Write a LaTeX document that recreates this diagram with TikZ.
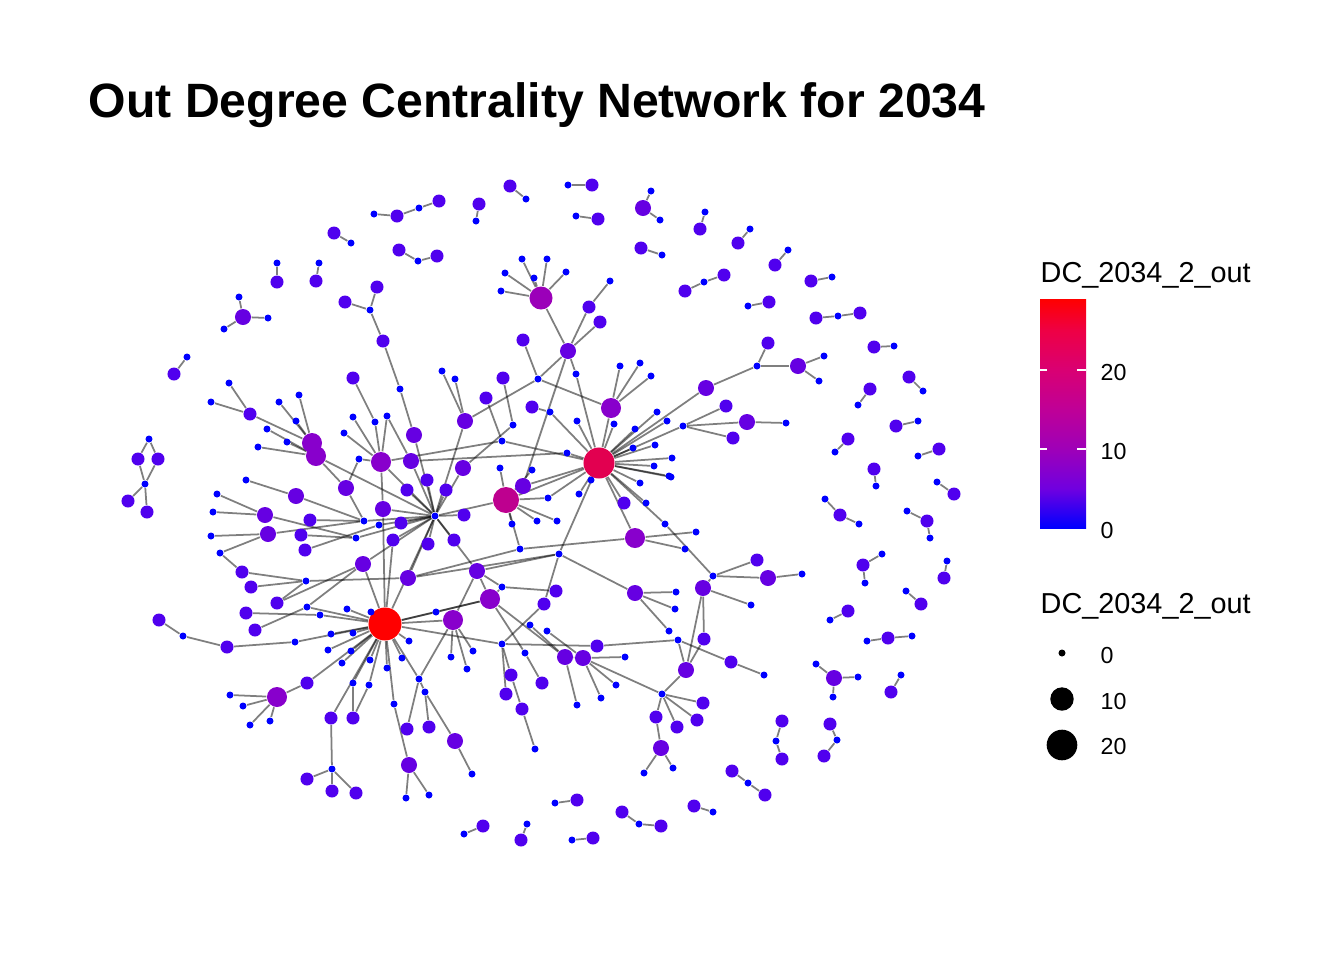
\documentclass[tikz,border=0pt]{standalone}
\usepackage{fontspec}
\setmainfont{Liberation Sans}
\usepackage{tikz}
\usetikzlibrary{backgrounds}
\definecolor{dc-0}{RGB}{0, 0, 255}
\definecolor{dc-1}{RGB}{80, 0, 238}
\definecolor{dc-2}{RGB}{102, 0, 226}
\definecolor{dc-3}{RGB}{136, 0, 204}
\definecolor{dc-4}{RGB}{155, 0, 185}
\definecolor{dc-5}{RGB}{190, 0, 143}
\definecolor{dc-6}{RGB}{226, 0, 80}
\definecolor{dc-7}{RGB}{255, 0, 0}
\definecolor{dcs-5}{RGB}{112, 0, 224}
\definecolor{dcs-10}{RGB}{158, 0, 184}
\definecolor{dcs-15}{RGB}{191, 0, 151}
\definecolor{dcs-20}{RGB}{217, 0, 115}
\definecolor{dcs-25}{RGB}{238, 0, 69}
\pgfdeclareverticalshading{dc-bar}{100bp}{color(0bp)=(dc-0); color(25bp)=(dc-0); color(33.6bp)=(dcs-5);
  color(42.2bp)=(dcs-10); color(50.9bp)=(dcs-15); color(59.5bp)=(dcs-20); color(68.1bp)=(dcs-25);
  color(75bp)=(dc-7); color(100bp)=(dc-7)}

\begin{document}
\begin{tikzpicture}[x = 0.01cm, y = -0.01cm,
    deg0/.style = {circle, inner sep = 0pt, minimum size = 0.07cm, fill = dc-0},
    deg1/.style = {circle, inner sep = 0pt, minimum size = 0.13cm, fill = dc-1},
    deg2/.style = {circle, inner sep = 0pt, minimum size = 0.16cm, fill = dc-2},
    deg3/.style = {circle, inner sep = 0pt, minimum size = 0.20cm, fill = dc-3},
    deg4/.style = {circle, inner sep = 0pt, minimum size = 0.23cm, fill = dc-4},
    edge/.style = {draw = black, draw opacity = 0.5, line width = 0.5pt},
    legend-text/.style = {anchor = base west, inner sep = 0pt, font = \fontsize{6.6pt}{8pt}\selectfont}]
  \useasboundingbox (0, 0) rectangle (1344, 960);

  \node[anchor = base west, inner sep = 0pt, font = \fontsize{13.7pt}{16pt}\selectfont\bfseries] (title) at (88, 117) {Out Degree Centrality Network for 2034};

  % hubs
  \node[circle, inner sep = 0pt, minimum size = 0.33cm, fill = dc-7] (hub-a) at (385, 624) {};
  \node[circle, inner sep = 0pt, minimum size = 0.31cm, fill = dc-6] (hub-b) at (599, 463) {};
  \node[circle, inner sep = 0pt, minimum size = 0.26cm, fill = dc-5] (mid) at (506, 500) {};
  \node[deg0] (junc) at (435, 516) {};

  % vertices, by out degree
  \foreach \x/\y in {374/214, 419/208, 351/243, 277/263, 319/263, 418/261, 370/310, 239/297, 268/318, 224/329,
      187/357, 229/383, 211/402, 526/199, 568/185, 476/221, 576/216, 651/191, 660/220, 662/255, 705/212, 750/229,
      788/250, 704/282, 748/306, 832/277, 838/316, 894/346, 923/391, 858/405, 757/366, 824/356, 819/381, 918/421,
      835/452, 918/456, 876/486, 937/482, 825/499, 859/524, 907/511, 930/538, 882/554, 865/583, 947/561, 906/591,
      830/620, 867/641, 912/636, 816/664, 858/677, 833/697, 901/675, 776/741, 837/740, 748/783, 713/812, 639/824,
      555/803, 464/834, 527/824, 572/840, 149/439, 145/484, 183/636, 295/642,
      522/259, 547/259, 505/273, 534/278, 566/272, 501/291, 610/281, 538/379, 576/374, 620/366, 640/363, 651/376,
      442/371, 455/379, 400/389, 353/417, 375/422, 387/416, 344/433, 359/459, 279/402, 299/395, 296/421, 267/429,
      287/442, 258/447, 246/480, 217/494, 213/512, 211/536, 220/553, 306/581, 307/607, 320/615, 347/609, 371/612,
      331/634, 353/633, 328/650, 351/651, 342/663, 370/660, 387/668, 394/704, 353/683, 369/685, 230/695, 243/706,
      250/725, 270/721, 332/769, 364/521, 379/525, 356/538, 502/441, 513/425, 550/412, 577/421, 567/453, 500/468,
      532/470, 548/498, 537/521, 557/521, 512/524, 520/549, 559/554, 579/494, 591/480, 614/424, 635/429, 657/412,
      667/421, 633/448, 655/445, 654/466, 669/476, 672/458, 671/477, 640/483, 646/503, 665/524, 683/426, 786/423,
      696/532, 685/549, 713/576, 802/574, 751/605, 676/592, 675/609, 669/631, 678/640, 764/675, 662/694, 673/768,
      644/773, 502/587, 436/612, 409/641, 402/658, 419/679, 425/692, 451/657, 473/651, 467/669, 472/774, 406/798,
      429/795, 502/644, 530/625, 547/631, 525/653, 535/749, 577/705, 601/698, 616/685, 625/657}
    \node[deg0] (n\x-\y) at (\x, \y) {};
  \foreach \x/\y in {397/216, 439/201, 334/233, 277/282, 316/281, 399/250, 437/256, 377/287, 345/302, 383/341,
      174/374, 250/414, 510/186, 592/185, 479/204, 598/219, 641/248, 700/229, 738/243, 775/265, 685/291, 724/275,
      769/302, 811/281, 816/318, 860/313, 874/347, 909/377, 870/389, 768/343, 896/426, 848/439, 939/449, 874/469,
      954/494, 840/515, 927/521, 863/565, 944/578, 921/604, 848/611, 888/638, 891/692, 782/721, 782/759, 830/724,
      824/756, 732/771, 765/795, 694/806, 622/812, 661/826, 577/800, 483/826, 521/840, 593/838, 138/459, 158/459,
      128/501, 147/512, 159/620, 227/647, 589/307, 600/322, 523/340, 503/378, 486/398, 532/407, 353/378, 726/406,
      733/438, 624/503, 757/560, 704/639, 731/662, 703/703, 697/720, 677/727, 656/717, 597/646, 556/591, 544/604,
      511/675, 506/694, 542/683, 522/709, 407/729, 429/727, 307/683, 331/718, 353/718, 307/779, 332/791, 356/793,
      246/613, 255/630, 242/572, 251/587, 277/603, 305/550, 301/535, 310/520, 427/480, 446/490, 407/490, 464/515,
      401/523, 393/540, 428/544, 454/540}
    \node[deg1] (n\x-\y) at (\x, \y) {};
  \foreach \x/\y in {643/208, 243/317, 798/366, 706/388, 747/422, 834/678, 411/461, 465/421, 414/435, 568/351,
      523/486, 565/657, 583/658, 477/571, 408/578, 635/593, 703/588, 768/578, 661/748, 686/670, 409/765, 455/741,
      265/515, 268/534, 296/496, 346/488, 363/564, 383/509, 463/468}
    \node[deg2] (n\x-\y) at (\x, \y) {};
  \foreach \x/\y in {312/443, 316/456, 381/462, 611/408, 635/538, 490/599, 453/620, 277/697}
    \node[deg3] (n\x-\y) at (\x, \y) {};
  \node[deg4] (n541-298) at (541, 298) {};

  \begin{pgfonlayer}{background}
    % outer pairs and chains
    \foreach \a/\b in {374-214/397-216, 397-216/419-208, 419-208/439-201, 334-233/351-243, 277-263/277-282,
        319-263/316-281, 399-250/418-261, 418-261/437-256, 377-287/370-310, 345-302/370-310, 370-310/383-341,
        243-317/239-297, 243-317/268-318, 243-317/224-329, 174-374/187-357, 229-383/250-414, 211-402/250-414,
        510-186/526-199, 568-185/592-185, 479-204/476-221, 576-216/598-219, 643-208/651-191, 643-208/660-220,
        641-248/662-255, 705-212/700-229, 750-229/738-243, 788-250/775-265, 685-291/704-282, 704-282/724-275,
        769-302/748-306, 811-281/832-277, 816-318/838-316, 838-316/860-313, 874-347/894-346, 909-377/923-391,
        870-389/858-405, 768-343/757-366, 757-366/798-366, 798-366/824-356, 798-366/819-381, 757-366/706-388,
        918-421/896-426, 848-439/835-452, 939-449/918-456, 874-469/876-486, 937-482/954-494, 825-499/840-515,
        840-515/859-524, 907-511/927-521, 927-521/930-538, 882-554/863-565, 863-565/865-583, 947-561/944-578,
        906-591/921-604, 848-611/830-620, 867-641/888-638, 888-638/912-636, 816-664/834-678, 834-678/858-677,
        834-678/833-697, 901-675/891-692, 782-721/776-741, 776-741/782-759, 830-724/837-740, 837-740/824-756,
        732-771/748-783, 748-783/765-795, 694-806/713-812, 622-812/639-824, 639-824/661-826, 555-803/577-800,
        464-834/483-826, 527-824/521-840, 572-840/593-838, 149-439/138-459, 149-439/158-459, 138-459/145-484,
        158-459/145-484, 145-484/128-501, 145-484/147-512, 159-620/183-636, 183-636/227-647, 227-647/295-642}
      \draw[edge] (n\a) -- (n\b);
    % core
    \foreach \a/\b in {541-298/522-259, 541-298/547-259, 541-298/505-273, 541-298/534-278, 541-298/566-272,
        541-298/501-291, 541-298/568-351, 568-351/589-307, 589-307/610-281, 568-351/600-322, 568-351/538-379,
        568-351/576-374, 568-351/523-486, 523-340/538-379, 538-379/611-408, 538-379/465-421, 611-408/620-366,
        611-408/640-363, 611-408/651-376, 442-371/465-421, 455-379/465-421, 383-341/400-389, 400-389/414-435,
        353-378/375-422, 353-417/381-462, 375-422/381-462, 387-416/381-462, 344-433/381-462, 359-459/381-462,
        387-416/411-461, 381-462/383-509, 381-462/502-441, 411-461/567-453, 486-398/502-441, 503-378/513-425,
        513-425/463-468, 532-407/550-412, 250-414/312-443, 312-443/279-402, 312-443/299-395, 312-443/296-421,
        316-456/267-429, 316-456/287-442, 316-456/258-447, 312-443/316-456, 316-456/346-488, 346-488/359-459,
        346-488/364-521, 296-496/246-480, 296-496/364-521, 265-515/217-494, 265-515/213-512, 265-515/356-538,
        268-534/211-536, 268-534/220-553, 268-534/364-521, 220-553/242-572, 310-520/364-521, 301-535/356-538,
        305-550/379-525, 242-572/306-581, 251-587/306-581, 306-581/408-578, 277-603/363-564, 277-603/306-581,
        255-630/307-607, 307-607/363-564, 246-613/320-615, 408-578/559-554, 408-578/520-549, 520-549/635-538,
        477-571/559-554, 544-604/559-554, 559-554/635-593, 635-593/676-592, 635-593/675-609, 635-593/669-631,
        635-538/696-532, 635-538/685-549, 665-524/713-576, 713-576/757-560, 713-576/768-578, 768-578/802-574,
        713-576/703-588, 703-588/751-605, 703-588/686-670, 703-588/704-639, 704-639/686-670, 686-670/662-694,
        678-640/686-670, 678-640/731-662, 731-662/764-675, 597-646/678-640, 662-694/656-717, 662-694/703-703,
        662-694/697-720, 662-694/677-727, 656-717/661-748, 661-748/644-773, 661-748/673-768, 683-426/726-406,
        683-426/747-422, 747-422/786-423, 683-426/733-438, 477-571/502-587, 502-587/556-591, 490-599/502-587,
        490-599/565-657, 490-599/477-571, 530-625/565-657, 547-631/583-658, 565-657/577-705, 565-657/583-658,
        583-658/601-698, 583-658/616-685, 583-658/625-657, 583-658/662-694, 502-644/597-646, 502-644/511-675,
        511-675/522-709, 522-709/535-749, 502-644/506-694, 502-644/544-604, 525-653/542-683, 525-653/490-599,
        453-620/451-657, 453-620/473-651, 453-620/467-669, 453-620/419-679, 453-620/477-571, 419-679/407-729,
        419-679/425-692, 425-692/429-727, 425-692/455-741, 455-741/472-774, 394-704/409-765, 409-765/406-798,
        409-765/429-795, 277-697/307-683, 277-697/230-695, 277-697/243-706, 277-697/250-725, 277-697/270-721,
        353-683/353-718, 369-685/353-718, 331-718/332-769, 332-769/307-779, 332-769/332-791, 332-769/356-793,
        436-612/490-599}
      \draw[edge] (n\a) -- (n\b);
    \foreach \b in {295-642, 320-615, 331-634, 353-633, 328-650, 351-651, 342-663, 370-660, 387-668, 394-704,
        307-683, 353-683, 369-685, 331-718, 347-609, 371-612, 453-620, 436-612, 409-641, 402-658, 419-679,
        502-644, 383-509, 363-564, 490-599, 393-540, 307-607}
      \draw[edge] (hub-a) -- (n\b);
    \foreach \b in {611-408, 576-374, 550-412, 577-421, 502-441, 567-453, 614-424, 635-429, 657-412, 667-421,
        633-448, 655-445, 654-466, 669-476, 672-458, 671-477, 640-483, 591-480, 579-494, 624-503, 646-503,
        665-524, 683-426, 706-388, 635-538, 523-486, 548-498, 559-554}
      \draw[edge] (hub-b) -- (n\b);
    \foreach \b in {500-468, 532-470, 548-498, 537-521, 557-521, 512-524, 520-549}
      \draw[edge] (mid) -- (n\b);
    \foreach \b in {427-480, 446-490, 407-490, 383-509, 464-515, 401-523, 393-540, 428-544, 454-540, 316-456,
        364-521, 356-538, 379-525, 381-462, 411-461, 414-435, 465-421, 463-468, 477-571, 408-578, 363-564}
      \draw[edge] (junc) -- (n\b);
    \draw[edge] (junc) -- (mid);
    \draw[edge] (junc) -- (hub-a);
    \draw[edge] (mid) -- (hub-b);
  \end{pgfonlayer}

  % colour legend
  \node[anchor = base west, inner sep = 0pt, font = \fontsize{8.2pt}{10pt}\selectfont] (colour-title) at (1040, 282) {DC\_2034\_2\_out};
  \shade[shading = dc-bar] (1040, 528) rectangle (1086, 299);
  \draw[white, line width = 0.5pt] (1040, 370) -- (1047, 370) (1077, 370) -- (1086, 370);
  \draw[white, line width = 0.5pt] (1040, 449) -- (1047, 449) (1077, 449) -- (1086, 449);
  \node[legend-text] (colour-20) at (1100, 380) {20};
  \node[legend-text] (colour-10) at (1100, 459) {10};
  \node[legend-text] (colour-0) at (1100, 538) {0};

  % size legend
  \node[anchor = base west, inner sep = 0pt, font = \fontsize{8.2pt}{10pt}\selectfont] (size-title) at (1040, 613) {DC\_2034\_2\_out};
  \node[circle, inner sep = 0pt, minimum size = 0.07cm, fill = black] (size-0) at (1062, 653) {};
  \node[circle, inner sep = 0pt, minimum size = 0.234cm, fill = black] (size-10) at (1062, 699) {};
  \node[circle, inner sep = 0pt, minimum size = 0.306cm, fill = black] (size-20) at (1062, 745) {};
  \node[legend-text] (size-label-0) at (1100, 663) {0};
  \node[legend-text] (size-label-10) at (1100, 709) {10};
  \node[legend-text] (size-label-20) at (1100, 754) {20};
\end{tikzpicture}
\end{document}
